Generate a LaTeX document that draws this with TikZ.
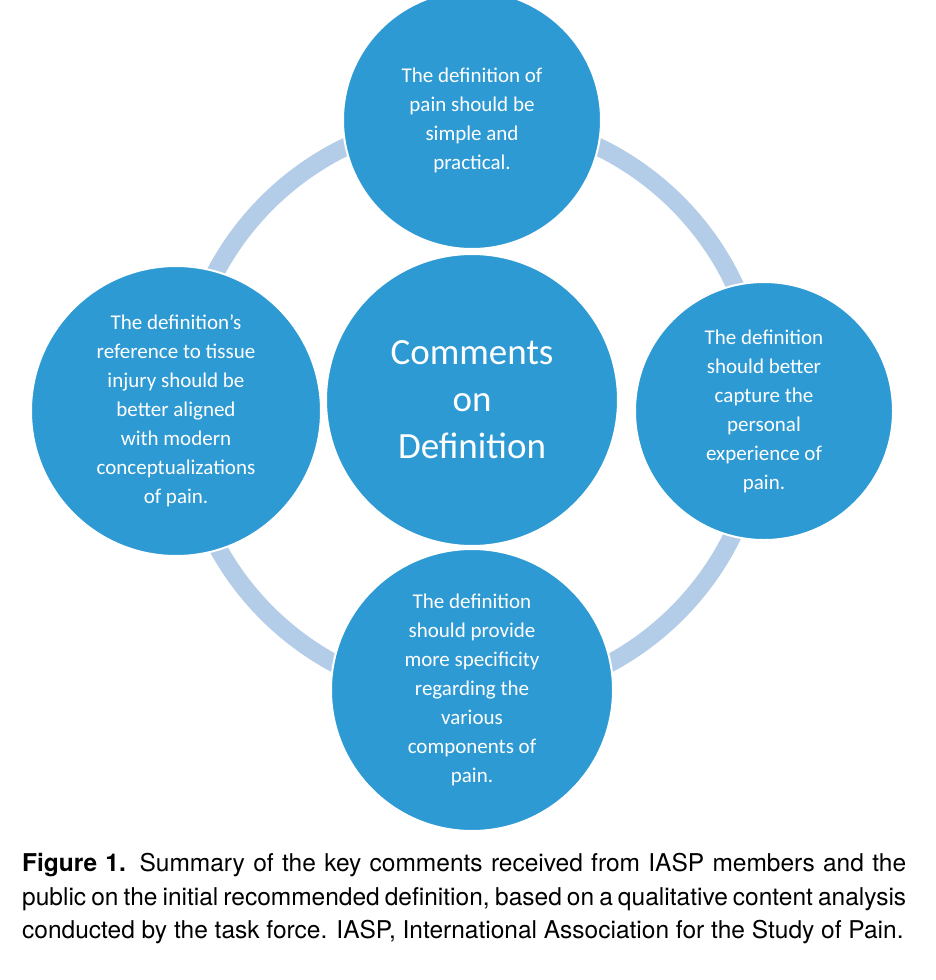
\documentclass[tikz,border=0pt]{standalone}
\usepackage{fontspec}
\setmainfont{Carlito}
\newfontfamily\capfont{TeX Gyre Heros}
\definecolor{cblue}{HTML}{2E9AD4}
\definecolor{ring}{HTML}{B3CDE8}
\begin{document}
\begin{tikzpicture}[x=1pt,y=-1pt,
  bub/.style={circle,fill=cblue,draw=white,line width=2pt,text=white,align=center,font=\fontsize{21}{29}\selectfont,inner sep=0pt}]
\useasboundingbox (0,0) rectangle (936,980);
\draw[ring,line width=18pt] (472,408) circle (290);
\node[bub,minimum size=258] (top) at (472,120) {The definition of\\pain should be\\simple and\\practical.};
\node[bub,minimum size=290] (left) at (176,411) {The definition's\\reference to tissue\\injury should be\\better aligned\\with modern\\conceptualizations\\of pain.};
\node[bub,minimum size=258] (right) at (764,411) {The definition\\should better\\capture the\\personal\\experience of\\pain.};
\node[bub,minimum size=282] (bottom) at (472,690) {The definition\\should provide\\more specificity\\regarding the\\various\\components of\\pain.};
\node[bub,minimum size=292,font=\fontsize{37}{47}\selectfont] (center) at (472,400) {Comments\\on\\Definition};
\node[anchor=north west,text width=884,align=justify,inner sep=0pt,font=\capfont\fontsize{24.5}{33.5}\selectfont] (cap) at (22,853)
{\textbf{Figure 1.} Summary of the key comments received from IASP members and the public on the initial recommended definition, based on a qualitative content analysis conducted by the task force. IASP, International Association for the Study of Pain.};
\end{tikzpicture}
\end{document}
